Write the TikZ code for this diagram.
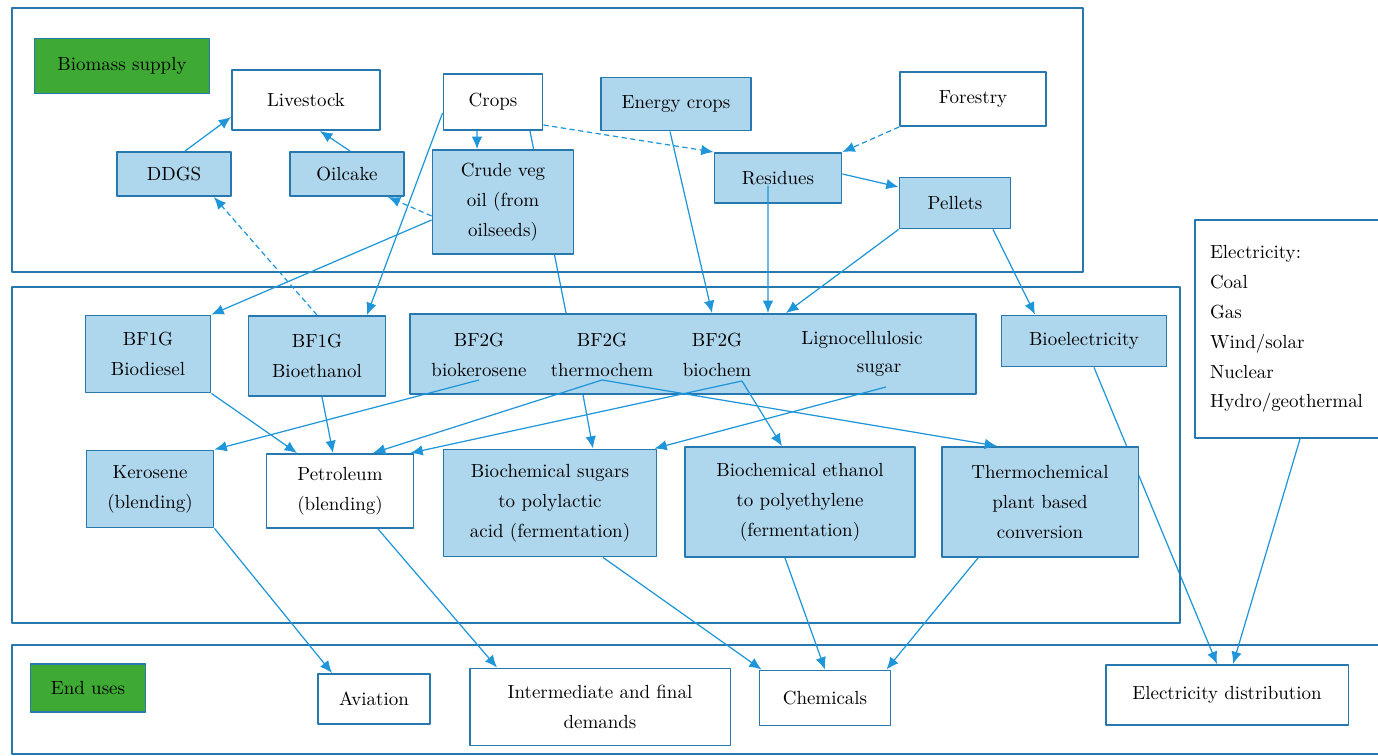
\documentclass[tikz,border=0pt]{standalone}
\usepackage{tikz}
\usetikzlibrary{positioning,arrows.meta,backgrounds}
\definecolor{boxline}{RGB}{40,120,176}
\definecolor{boxfill}{RGB}{174,214,237}
\definecolor{flowblue}{RGB}{32,150,218}
\definecolor{labelgreen}{RGB}{62,170,52}

\begin{document}
\begin{tikzpicture}[x=0.02cm,y=-0.02cm,>={Latex[length=7pt,width=6pt]},line join=bevel,
  every node/.style={font=\fontsize{10.8}{17}\selectfont},
  panel/.style={draw=boxline,line width=1.1pt},
  bluebox/.style={draw=boxline,fill=boxfill,line width=1.1pt,align=center,inner sep=2pt},
  whitebox/.style={draw=boxline,fill=white,line width=1.1pt,align=center,inner sep=2pt},
  greenbox/.style={draw=boxline,fill=labelgreen,line width=0.6pt,align=center},
  flow/.style={flowblue,line width=0.7pt,->},
  dflow/.style={flow,dash pattern=on 3pt off 2pt},
]
  \useasboundingbox (0,0) rectangle (1378,756);

  % panels
  \draw [panel] (12,8) rectangle (1083,272);
  \draw [panel] (12,287) rectangle (1180,623);
  \draw [panel] (12,645) rectangle (1420,754);

  % biomass supply
  \node (node_supply) at (122,66) [greenbox,minimum width=3.5cm,minimum height=1.1cm] {Biomass supply};
  \node (node_livestock) at (306,100) [whitebox,minimum width=2.96cm,minimum height=1.2cm] {Livestock};
  \node (node_crops) at (493,102) [whitebox,minimum width=1.98cm,minimum height=1.12cm] {Crops};
  \node (node_energy) at (676,104) [bluebox,minimum width=3.0cm,minimum height=1.06cm] {Energy crops};
  \node (node_forestry) at (973,99) [whitebox,minimum width=2.92cm,minimum height=1.08cm] {Forestry};
  \node (node_ddgs) at (174,174) [bluebox,minimum width=2.28cm,minimum height=0.88cm] {DDGS};
  \node (node_oilcake) at (347,174) [bluebox,minimum width=2.28cm,minimum height=0.88cm] {Oilcake};
  \node (node_crude) at (503,202) [bluebox,minimum width=2.82cm,minimum height=2.08cm] {Crude veg\\oil (from\\oilseeds)};
  \node (node_residues) at (778,178) [bluebox,minimum width=2.54cm,minimum height=1.0cm] {Residues};
  \node (node_pellets) at (955,203) [bluebox,minimum width=2.22cm,minimum height=1.02cm] {Pellets};

  % conversion
  \node (node_biodiesel) at (148,354) [bluebox,minimum width=2.5cm,minimum height=1.54cm] {BF1G\\Biodiesel};
  \node (node_bioethanol) at (317,356) [bluebox,minimum width=2.74cm,minimum height=1.6cm] {BF1G\\Bioethanol};
  \node (node_bf2g) at (693,354) [bluebox,minimum width=11.34cm,minimum height=1.6cm] {};
  \node (node_biokero) at (479,355) [align=center] {BF2G\\biokerosene};
  \node (node_thermochem) at (602,355) [align=center] {BF2G\\thermochem};
  \node (node_biochem) at (717,355) [align=center] {BF2G\\biochem};
  \node (node_ligno) at (862,340) {Lignocellulosic};
  \node (node_sugar) at (879,370) {sugar};
  \node (node_bioelec) at (1084,341) [bluebox,minimum width=3.3cm,minimum height=1.02cm] {Bioelectricity};
  \node (node_kerosene) at (150,489) [bluebox,minimum width=2.54cm,minimum height=1.54cm] {Kerosene\\(blending)};
  \node (node_petroleum) at (340,491) [whitebox,minimum width=2.94cm,minimum height=1.48cm] {Petroleum\\(blending)};
  \node (node_sugars) at (550,503) [bluebox,minimum width=4.26cm,minimum height=2.14cm] {Biochemical sugars\\to polylactic\\acid (fermentation)};
  \node (node_ethanol) at (800,502) [bluebox,minimum width=4.6cm,minimum height=2.2cm] {Biochemical ethanol\\to polyethylene\\(fermentation)};
  \node (node_thermo) at (1040,502) [bluebox,minimum width=3.94cm,minimum height=2.2cm] {Thermochemical\\plant based\\conversion};
  \node (node_elec) at (1297.5,329) [whitebox,minimum width=4.1cm,minimum height=4.36cm,text width=3.5cm,align=left] {Electricity:\\Coal\\Gas\\Wind/solar\\Nuclear\\Hydro/geothermal};

  % end uses
  \node (node_enduses) at (88,688) [greenbox,minimum width=2.3cm,minimum height=0.96cm] {End uses};
  \node (node_aviation) at (374,699) [whitebox,minimum width=2.24cm,minimum height=1.0cm] {Aviation};
  \node (node_demands) at (600,707) [whitebox,minimum width=5.22cm,minimum height=1.54cm] {Intermediate and final\\demands};
  \node (node_chemicals) at (825,698) [whitebox,minimum width=2.62cm,minimum height=1.1cm] {Chemicals};
  \node (node_elecdist) at (1227,695) [whitebox,minimum width=4.86cm,minimum height=1.2cm] {Electricity distribution};

  % hidden behind boxes
  \begin{scope}[on background layer]
    \draw [flowblue,line width=0.7pt] ([xshift=0.74cm]node_crops.south) -- ([xshift=-2.54cm]node_bf2g.north);
    \draw [flow] ([xshift=0.2cm]node_bioelec.south) -- ([xshift=-0.2cm]node_elecdist.north);
  \end{scope}

  % supply flows
  \draw [flow] ([xshift=0.22cm]node_ddgs.north) -- ([yshift=-0.34cm]node_livestock.west);
  \draw [flow] ([xshift=0.06cm]node_oilcake.north) -- ([xshift=0.28cm]node_livestock.south);
  \draw [flow] ([xshift=-0.32cm]node_crops.south) -- ([xshift=-0.52cm]node_crude.north);
  \draw [dflow] ([yshift=-0.46cm]node_crops.east) -- (node_residues.north west);
  \draw [dflow] (node_forestry.south west) -- (node_residues.north east);
  \draw [dflow] ([yshift=-0.28cm]node_crude.west) -- ([xshift=-0.34cm]node_oilcake.south east);
  \draw [dflow] (node_bioethanol.north) -- ([xshift=-0.36cm]node_ddgs.south east);
  \draw [flow] ([yshift=-0.36cm]node_crude.west) -- (node_biodiesel.north east);
  \draw [flow] ([yshift=-0.22cm]node_crops.west) -- ([xshift=1.0cm]node_bioethanol.north);
  \draw [flow] ([xshift=-0.12cm]node_energy.south) -- ([xshift=0.38cm]node_bf2g.north);
  \draw [flow] ([xshift=-0.2cm,yshift=-0.16cm]node_residues.center) -- ([xshift=1.5cm]node_bf2g.north);
  \draw [flow] (node_pellets.south west) -- ([xshift=1.86cm]node_bf2g.north);
  \draw [flow] ([xshift=0.76cm]node_pellets.south) -- ([xshift=-0.98cm]node_bioelec.north);
  \draw [flow] ([yshift=0.08cm]node_residues.east) -- ([yshift=0.32cm]node_pellets.west);

  % conversion flows
  \draw [flow] (node_biodiesel.south east) -- ([xshift=-0.86cm]node_petroleum.north);
  \draw [flow] ([xshift=0.1cm]node_bioethanol.south) -- ([xshift=-0.14cm]node_petroleum.north);
  \draw [flow] ([yshift=-0.5cm]node_biokero.center) -- (node_kerosene.north east);
  \draw [flow] ([yshift=-0.5cm]node_thermochem.center) -- ([xshift=0.66cm]node_petroleum.north);
  \draw [flow] ([xshift=0.5cm,yshift=-0.52cm]node_biochem.center) -- ([xshift=-0.08cm]node_petroleum.north east);
  \draw [flow] ([xshift=-2.2cm]node_bf2g.south) -- ([xshift=0.86cm]node_sugars.north);
  \draw [flow] ([xshift=0.14cm,yshift=-0.34cm]node_sugar.center) -- ([xshift=-0.06cm]node_sugars.north east);
  \draw [flow] ([xshift=0.5cm,yshift=-0.52cm]node_biochem.center) -- ([xshift=-0.36cm]node_ethanol.north);
  \draw [flow] ([yshift=-0.5cm]node_thermochem.center) -- ([xshift=-0.86cm]node_thermo.north);
  \draw [flow] ([xshift=0.05cm]node_elec.south) -- ([xshift=0.12cm]node_elecdist.north);

  % end use flows
  \draw [flow] (node_kerosene.south east) -- ([xshift=-0.84cm]node_aviation.north);
  \draw [flow] ([xshift=0.76cm]node_petroleum.south) -- ([xshift=-2.06cm]node_demands.north);
  \draw [flow] ([xshift=1.06cm]node_sugars.south) -- ([xshift=0.06cm]node_chemicals.north west);
  \draw [flow] ([xshift=-0.3cm]node_ethanol.south) -- (node_chemicals.north);
  \draw [flow] ([xshift=-1.24cm]node_thermo.south) -- ([xshift=-0.1cm]node_chemicals.north east);
%
\end{tikzpicture}
\end{document}
